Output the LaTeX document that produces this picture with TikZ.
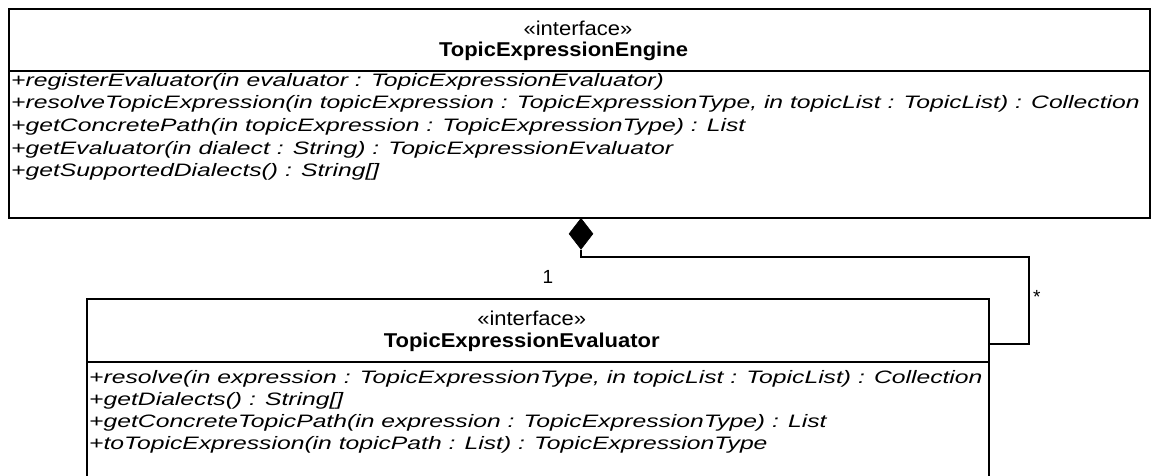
\documentclass[tikz,border=0pt]{standalone}
\usepackage{fontspec}
\usepackage{graphicx}
\setmainfont{Liberation Sans}
\usetikzlibrary{shapes.geometric}
\newcommand{\rw}[1]{\scalebox{1.372}[1]{#1}}
\newcommand{\tw}[1]{\scalebox{1.1}[1]{#1}}
\tikzset{
  umlbox/.style={draw, line width=1.5pt, inner sep=0pt},
  divline/.style={line width=1.5pt},
  conn/.style={line width=1.3pt},
  row/.style={anchor=base west, inner sep=0pt, font=\fontsize{18}{18}\selectfont\itshape},
  stereo/.style={anchor=base, inner sep=0pt, font=\fontsize{20}{20}\selectfont},
  cname/.style={anchor=base, inner sep=0pt, font=\fontsize{20}{20}\selectfont\bfseries},
  mult/.style={inner sep=0pt, font=\fontsize{19}{19}\selectfont},
  compdia/.style={diamond, fill=black, draw=black, line width=0.6pt, inner sep=0pt, minimum width=24pt, minimum height=31pt},
}
\begin{document}
\begin{tikzpicture}[x=1pt,y=-1pt]
\useasboundingbox (0,0) rectangle (1153,476);
\clip (0,0) rectangle (1153,476);
% Engine box
\node[umlbox, minimum width=1141pt, minimum height=209pt] (engine) at (579.5,113.5) {};
\draw[divline] (9,71) -- (1150,71);
\node[stereo] (est) at (578,36) {\tw{«interface»}};
\node[cname] (ename) at (563.5,57) {\tw{TopicExpressionEngine}};
\node[row] (e1) at (11,86.5) {\rw{+registerEvaluator(in evaluator : TopicExpressionEvaluator)}};
\node[row] (e2) at (11,109) {\rw{+resolveTopicExpression(in topicExpression : TopicExpressionType, in topicList : TopicList) : Collection}};
\node[row] (e3) at (11,131.5) {\rw{+getConcretePath(in topicExpression : TopicExpressionType) : List}};
\node[row] (e4) at (11,154) {\rw{+getEvaluator(in dialect : String) : TopicExpressionEvaluator}};
\node[row] (e5) at (11,176.5) {\rw{+getSupportedDialects() : String[]}};
% Evaluator box
\node[umlbox, minimum width=902pt, minimum height=191pt] (evaluator) at (538,394.5) {};
\draw[divline] (87,362) -- (989,362);
\node[stereo] (vst) at (531.7,325) {\tw{«interface»}};
\node[cname] (vname) at (521.7,347) {\tw{TopicExpressionEvaluator}};
\node[row] (v1) at (89,383.5) {\rw{+resolve(in expression : TopicExpressionType, in topicList : TopicList) : Collection}};
\node[row] (v2) at (89,405.5) {\rw{+getDialects() : String[]}};
\node[row] (v3) at (89,427.5) {\rw{+getConcreteTopicPath(in expression : TopicExpressionType) : List}};
\node[row] (v4) at (89,449.5) {\rw{+toTopicExpression(in topicPath : List) : TopicExpressionType}};
% Composition
\node[compdia, anchor=north] (dia) at (581,218) {};
\coordinate (bend1) at (1029,257);
\coordinate (bend2) at (1029,344);
\draw[conn] (dia.south) |- (bend1) -- (bend2) -- (evaluator.east |- bend2);
\node[mult] (m1) at (548,277) {1};
\node[mult, anchor=west] (m2) at (1033,297) {*};
\end{tikzpicture}
\end{document}
